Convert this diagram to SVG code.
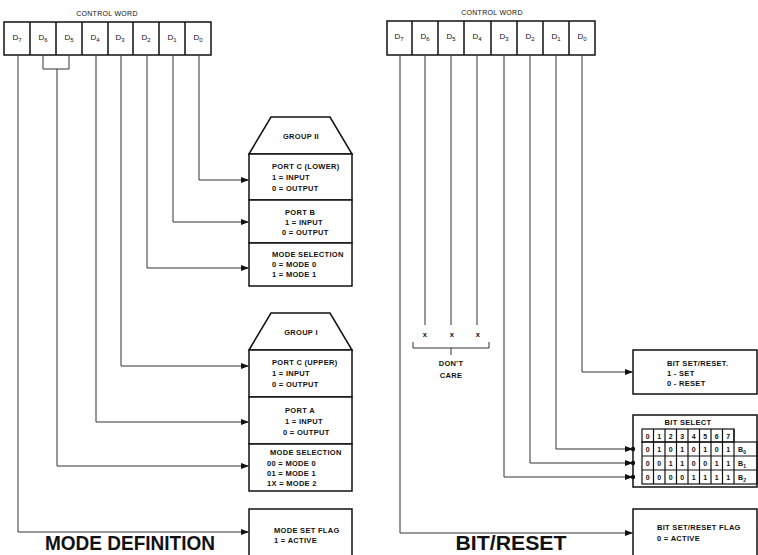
<svg xmlns="http://www.w3.org/2000/svg" width="758" height="555" viewBox="0 0 758 555">
<defs>
<style>
.box{fill:#fff;stroke:#111;stroke-width:1.5}
.wire{fill:none;stroke:#333;stroke-width:1}
.t{font-family:"Liberation Sans",Arial,sans-serif;font-size:7.5px;font-weight:bold;letter-spacing:0.3px;fill:#111}
.d{font-family:"Liberation Sans",Arial,sans-serif;font-size:8px;fill:#111}
.s{font-size:6px}
.c{text-anchor:middle}
.big{font-family:"Liberation Sans",Arial,sans-serif;font-size:21px;font-weight:bold;fill:#111;text-anchor:middle}
.cell{font-family:"Liberation Sans",Arial,sans-serif;font-size:7px;font-weight:bold;fill:#111;text-anchor:middle}
</style>
<marker id="ah" viewBox="0 0 8 6" refX="8" refY="3" markerWidth="8" markerHeight="6" markerUnits="userSpaceOnUse" orient="auto">
<path d="M0,0 L8,3 L0,6 z" fill="#111"/>
</marker>
</defs>
<rect width="758" height="555" fill="#fff"/>

<!-- LEFT: MODE DEFINITION -->
<g id="cw-left">
<text class="t c" x="107" y="16" style="font-weight:normal;font-size:7px">CONTROL WORD</text>
<rect class="box" x="4" y="22" width="207" height="33"/>
<path d="M30,22V55M56,22V55M82,22V55M108,22V55M133,22V55M159,22V55M185,22V55" stroke="#111" stroke-width="1.5"/>
<text class="d c" x="17" y="40">D<tspan class="s" dy="2">7</tspan></text>
<text class="d c" x="43" y="40">D<tspan class="s" dy="2">6</tspan></text>
<text class="d c" x="69" y="40">D<tspan class="s" dy="2">5</tspan></text>
<text class="d c" x="95" y="40">D<tspan class="s" dy="2">4</tspan></text>
<text class="d c" x="120" y="40">D<tspan class="s" dy="2">3</tspan></text>
<text class="d c" x="146" y="40">D<tspan class="s" dy="2">2</tspan></text>
<text class="d c" x="172" y="40">D<tspan class="s" dy="2">1</tspan></text>
<text class="d c" x="198" y="40">D<tspan class="s" dy="2">0</tspan></text>
</g>

<g id="group2">
<polygon class="box" points="249,154 271,117 330,117 352,154"/>
<text class="t c" x="301" y="139">GROUP II</text>
<rect class="box" x="249" y="154" width="103" height="46"/>
<text class="t" x="272" y="169">PORT C (LOWER)</text>
<text class="t" x="272" y="180">1 = INPUT</text>
<text class="t" x="272" y="191">0 = OUTPUT</text>
<rect class="box" x="249" y="200" width="103" height="43"/>
<text class="t" x="285" y="215">PORT B</text>
<text class="t" x="285" y="225">1 = INPUT</text>
<text class="t" x="282" y="235">0 = OUTPUT</text>
<rect class="box" x="249" y="243" width="103" height="43"/>
<text class="t" x="272" y="257">MODE SELECTION</text>
<text class="t" x="272" y="267">0 = MODE 0</text>
<text class="t" x="272" y="277">1 = MODE 1</text>
</g>

<g id="group1">
<polygon class="box" points="249,350 271,313 330,313 352,350"/>
<text class="t c" x="301" y="335">GROUP I</text>
<rect class="box" x="249" y="350" width="103" height="47"/>
<text class="t" x="272" y="365">PORT C (UPPER)</text>
<text class="t" x="272" y="376">1 = INPUT</text>
<text class="t" x="272" y="387">0 = OUTPUT</text>
<rect class="box" x="249" y="397" width="103" height="47"/>
<text class="t" x="285" y="413">PORT A</text>
<text class="t" x="285" y="424">1 = INPUT</text>
<text class="t" x="283" y="435">0 = OUTPUT</text>
<rect class="box" x="249" y="444" width="103" height="47"/>
<text class="t" x="270" y="455">MODE SELECTION</text>
<text class="t" x="267" y="466">00 = MODE 0</text>
<text class="t" x="267" y="476">01 = MODE 1</text>
<text class="t" x="267" y="486">1X = MODE 2</text>
</g>

<g id="modeset">
<rect class="box" x="249" y="509" width="103" height="60"/>
<text class="t" x="274" y="533">MODE SET FLAG</text>
<text class="t" x="274" y="543">1 = ACTIVE</text>
</g>

<text class="big" x="130" y="550" textLength="170" lengthAdjust="spacingAndGlyphs">MODE DEFINITION</text>

<g id="connectors-left" class="wire">
<path d="M43,55V69H69V55"/>
<path d="M199,55V180H249" marker-end="url(#ah)"/>
<path d="M173,55V222H249" marker-end="url(#ah)"/>
<path d="M147,55V268H249" marker-end="url(#ah)"/>
<path d="M121,55V366H249" marker-end="url(#ah)"/>
<path d="M96,55V422H249" marker-end="url(#ah)"/>
<path d="M57,69V466H249" marker-end="url(#ah)"/>
<path d="M18,55V532H249" marker-end="url(#ah)"/>
</g>

<!-- RIGHT: BIT SET/RESET -->
<g id="cw-right">
<text class="t c" x="492" y="15" style="font-weight:normal;font-size:7px">CONTROL WORD</text>
<rect class="box" x="387" y="21" width="208" height="34"/>
<path d="M412,21V55M438,21V55M464,21V55M491,21V55M517,21V55M543,21V55M569,21V55" stroke="#111" stroke-width="1.5"/>
<text class="d c" x="399" y="39">D<tspan class="s" dy="2">7</tspan></text>
<text class="d c" x="425" y="39">D<tspan class="s" dy="2">6</tspan></text>
<text class="d c" x="451" y="39">D<tspan class="s" dy="2">5</tspan></text>
<text class="d c" x="477" y="39">D<tspan class="s" dy="2">4</tspan></text>
<text class="d c" x="504" y="39">D<tspan class="s" dy="2">3</tspan></text>
<text class="d c" x="530" y="39">D<tspan class="s" dy="2">2</tspan></text>
<text class="d c" x="556" y="39">D<tspan class="s" dy="2">1</tspan></text>
<text class="d c" x="582" y="39">D<tspan class="s" dy="2">0</tspan></text>
</g>

<g id="dontcare">
<text class="t c" x="425" y="337">x</text>
<text class="t c" x="452" y="337">x</text>
<text class="t c" x="478" y="337">x</text>
<path class="wire" d="M413,342V348H489V342M451,348V355"/>
<text class="t c" x="451" y="366">DON'T</text>
<text class="t c" x="451" y="378">CARE</text>
</g>

<g id="bitsetreset">
<rect class="box" x="633" y="350" width="124" height="44"/>
<text class="t" x="667" y="366">BIT SET/RESET.</text>
<text class="t" x="667" y="376">1 - SET</text>
<text class="t" x="667" y="386">0 - RESET</text>
</g>

<g id="bitselect">
<rect class="box" x="633" y="415" width="124" height="72"/>
<text class="t c" x="688" y="425">BIT SELECT</text>
<g fill="none" stroke="#111" stroke-width="1.2">
<rect x="642" y="429" width="92" height="13"/>
<rect x="642" y="442" width="115" height="42"/>
<path d="M642,456H757M642,470H757M653.5,429V484M665,429V484M676.5,429V484M688,429V484M699.5,429V484M711,429V484M722.5,429V484M734,429V484"/>
</g>
<g class="cell">
<text x="647.8" y="438.5">0</text><text x="659.3" y="438.5">1</text><text x="670.8" y="438.5">2</text><text x="682.3" y="438.5">3</text><text x="693.8" y="438.5">4</text><text x="705.3" y="438.5">5</text><text x="716.8" y="438.5">6</text><text x="728.3" y="438.5">7</text>
<text x="647.8" y="452">0</text><text x="659.3" y="452">1</text><text x="670.8" y="452">0</text><text x="682.3" y="452">1</text><text x="693.8" y="452">0</text><text x="705.3" y="452">1</text><text x="716.8" y="452">0</text><text x="728.3" y="452">1</text>
<text x="647.8" y="466">0</text><text x="659.3" y="466">0</text><text x="670.8" y="466">1</text><text x="682.3" y="466">1</text><text x="693.8" y="466">0</text><text x="705.3" y="466">0</text><text x="716.8" y="466">1</text><text x="728.3" y="466">1</text>
<text x="647.8" y="480">0</text><text x="659.3" y="480">0</text><text x="670.8" y="480">0</text><text x="682.3" y="480">0</text><text x="693.8" y="480">1</text><text x="705.3" y="480">1</text><text x="716.8" y="480">1</text><text x="728.3" y="480">1</text>
<text x="742" y="452">B<tspan font-size="5" dy="1.5">0</tspan></text>
<text x="742" y="466">B<tspan font-size="5" dy="1.5">1</tspan></text>
<text x="742" y="480">B<tspan font-size="5" dy="1.5">2</tspan></text>
</g>
</g>

<g id="bitsetresetflag">
<rect class="box" x="633" y="509" width="124" height="60"/>
<text class="t" x="657" y="530">BIT SET/RESET FLAG</text>
<text class="t" x="657" y="541">0 = ACTIVE</text>
</g>

<text class="big" x="511" y="550" textLength="111" lengthAdjust="spacingAndGlyphs">BIT/RESET</text>

<g id="connectors-right" class="wire">
<path d="M425,55V325M451,55V325M477,55V325"/>
<path d="M582,55V372H633" marker-end="url(#ah)"/>
<path d="M556,55V449H633" marker-end="url(#ah)"/>
<path d="M530,55V463H633" marker-end="url(#ah)"/>
<path d="M504,55V477H633" marker-end="url(#ah)"/>
<path d="M400,55V533H633" marker-end="url(#ah)"/>
<g fill="#111" stroke="none">
<circle cx="633" cy="449" r="2.2"/>
<circle cx="633" cy="463" r="2.2"/>
<circle cx="633" cy="477" r="2.2"/>
</g>
</g>
</svg>
